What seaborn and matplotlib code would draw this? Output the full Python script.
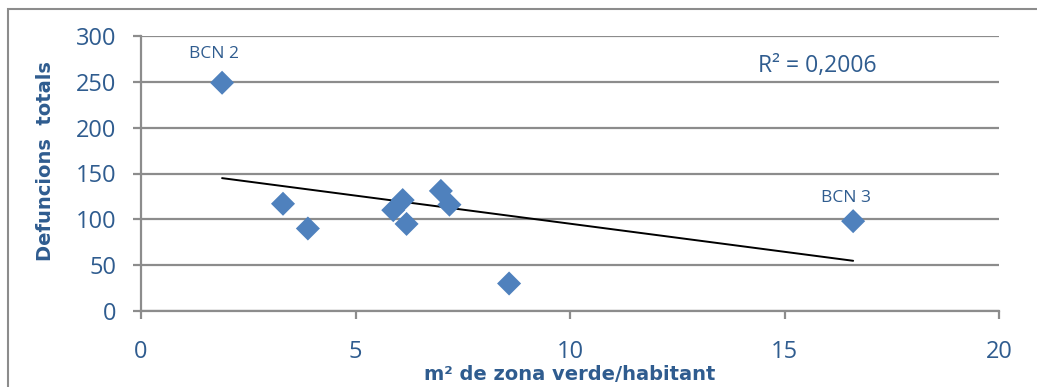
import numpy as np
import pandas as pd
import matplotlib
matplotlib.use("Agg")
import matplotlib.pyplot as plt
import seaborn as sns
from matplotlib.patches import Rectangle

# Data
green_area = [1.89, 3.31, 3.89, 5.88, 6.10, 6.19, 6.99, 7.19, 8.58, 16.6]
deaths = [249, 117, 90, 110, 121, 95, 131, 116, 30, 98]
x_ticks = [0, 5, 10, 15, 20]
y_ticks = [0, 50, 100, 150, 200, 250, 300]
labels = {"BCN 2": (1.89, 249), "BCN 3": (16.6, 98)}
label_offsets = {"BCN 2": (-6, 21), "BCN 3": (-5, 17)}
r2_text = "R² = 0,2006"

df = pd.DataFrame({"x": green_area, "y": deaths})

sns.set_theme(style="white")
plt.rcParams["font.family"] = ["Open Sans", "DejaVu Sans"]

blue_txt = "#2F5C8F"
grid_c = "#8C8C8C"
marker_c = "#4F81BD"

fig = plt.figure(figsize=(10.37, 3.87), dpi=100)
ax = fig.add_axes([141/1037, 1-311/387, (999-141)/1037, (311-36)/387])

sns.regplot(data=df, x="x", y="y", ax=ax, scatter=False, ci=None, truncate=True,
            line_kws=dict(color="black", lw=1.4, zorder=3))
sns.scatterplot(data=df, x="x", y="y", ax=ax, marker="D", s=150, color=marker_c,
                edgecolor="none", zorder=4, legend=False)

ax.set_xlim(0, 20)
ax.set_ylim(0, 300)
ax.set_xticks(x_ticks)
ax.set_yticks(y_ticks)
ax.set_xticklabels([str(v) for v in x_ticks])
ax.set_yticklabels([str(v) for v in y_ticks])
ax.yaxis.grid(True, color=grid_c, lw=1.6)
ax.xaxis.grid(False)
ax.set_axisbelow(True)
for s in ["top", "right"]:
    ax.spines[s].set_visible(False)
for s in ["left", "bottom"]:
    ax.spines[s].set_color(grid_c)
    ax.spines[s].set_linewidth(1.6)
ax.tick_params(axis="both", which="major", direction="out", length=6, width=1.6,
               color=grid_c, labelcolor=blue_txt, labelsize=17)
ax.tick_params(axis="x", pad=15, bottom=True)
ax.tick_params(axis="y", pad=12, left=True)

ax.set_xlabel("m² de zona verde/habitant", fontsize=14, fontweight="bold",
              color=blue_txt, va="center", family="DejaVu Sans")
ax.xaxis.set_label_coords(0.5, (311 - 375) / 275)
ax.set_ylabel("Defuncions  totals", fontsize=14, fontweight="bold",
              color=blue_txt, va="center", family="DejaVu Sans")
ax.yaxis.set_label_coords((45 - 141) / 858, (311 - 161) / 275)

for name, (lx, ly) in labels.items():
    ax.annotate(name, (lx, ly), xytext=label_offsets[name], textcoords="offset points",
                ha="center", va="center", fontsize=12.5, color=blue_txt)
ax.text(15.76, 267, r2_text, ha="center", va="center", fontsize=16.5, color=blue_txt)

fig.patches.append(Rectangle((8/1037, -0.05), 1.1, 1 - 9/387 + 0.05,
                             transform=fig.transFigure, fill=False,
                             edgecolor="#8C8C8C", lw=1.5, zorder=0))

fig.savefig("out.png", dpi=100)
